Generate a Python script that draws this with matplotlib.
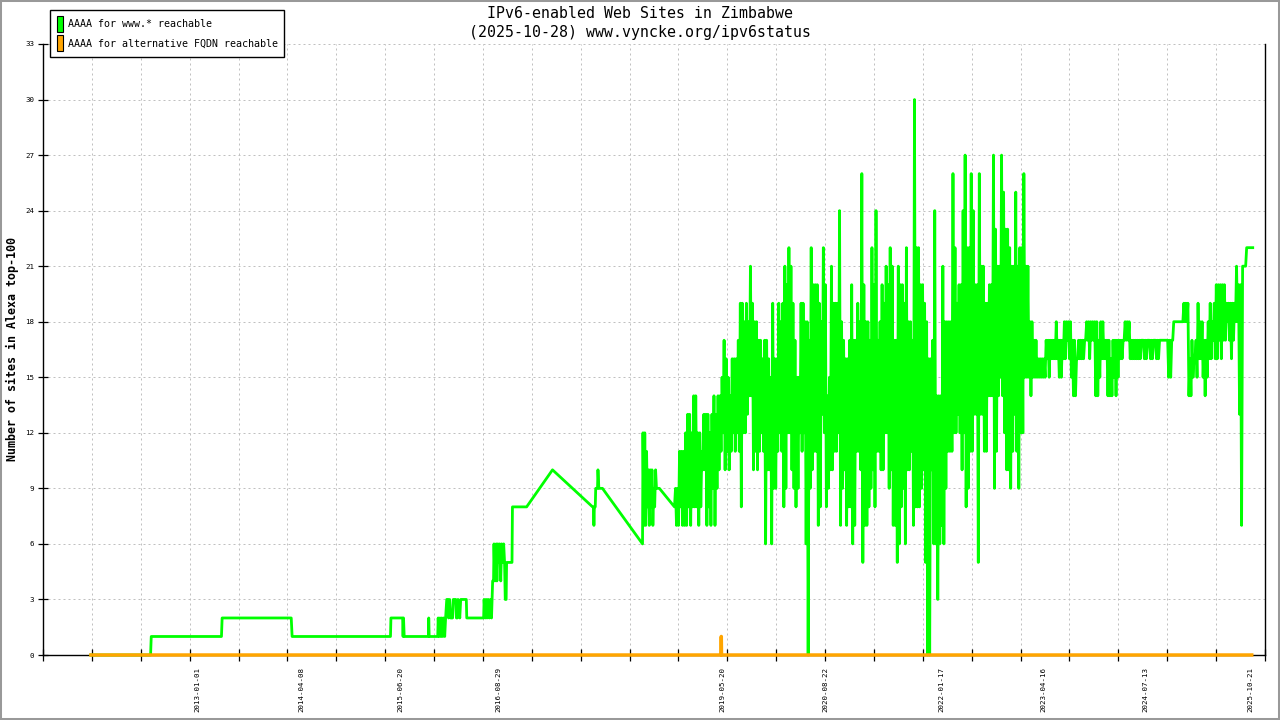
import numpy as np
import pandas as pd
import matplotlib
matplotlib.use("Agg")
import matplotlib.pyplot as plt
from matplotlib.patches import Patch, Rectangle

plt.rcParams["font.family"] = "DejaVu Sans Mono"

# axis labels
label_dates = ["2013-01-01", "2014-04-08", "2015-06-20", "2016-08-29", "2019-05-20",
               "2020-08-22", "2022-01-17", "2023-04-16", "2024-07-13", "2025-10-21"]
y_ticks = list(range(0, 34, 3))

# AAAA for www.* : early sparse measurements
early_dates = [
    "2011-09-14", "2012-06-05", "2012-06-08", "2013-04-16", "2013-04-19", "2014-02-20",
    "2014-02-24", "2015-05-07", "2015-05-09", "2015-06-30", "2015-07-02", "2015-07-04",
    "2015-07-07", "2015-10-23", "2015-10-24", "2015-10-26", "2015-12-03", "2015-12-05",
    "2015-12-09", "2015-12-13", "2015-12-17", "2015-12-21", "2015-12-25", "2015-12-29",
    "2016-01-03", "2016-01-07", "2016-01-12", "2016-01-17", "2016-01-20", "2016-01-25",
    "2016-01-29", "2016-02-07", "2016-02-10", "2016-02-21", "2016-02-24", "2016-02-28",
    "2016-03-02", "2016-03-10", "2016-03-14", "2016-04-08", "2016-04-10", "2016-06-24",
    "2016-06-26", "2016-07-01", "2016-07-05", "2016-07-09", "2016-07-14", "2016-07-19",
    "2016-07-24", "2016-07-29", "2016-08-03", "2016-08-07", "2016-08-09", "2016-08-13",
    "2016-08-16", "2016-08-19", "2016-08-22", "2016-08-26", "2016-08-30", "2016-09-03",
    "2016-09-08", "2016-09-12", "2016-09-17", "2016-09-21", "2016-09-25", "2016-09-28",
    "2016-10-02", "2016-10-04", "2016-10-28", "2016-10-30", "2017-01-01", "2017-04-26",
    "2017-10-21", "2017-10-25", "2017-10-27", "2017-10-29", "2017-11-02", "2017-11-04",
    "2017-11-12", "2017-11-14", "2017-11-18", "2017-12-04", "2018-05-31", "2018-06-02",
    "2018-06-06", "2018-06-10", "2018-06-14", "2018-06-18", "2018-06-22", "2018-06-26",
    "2018-06-30", "2018-07-04", "2018-07-08", "2018-07-12", "2018-07-16", "2018-07-20",
    "2018-07-24", "2018-07-28", "2018-08-01", "2018-08-14",
]
early_vals = [
    0, 0, 1, 1, 2, 2,
    1, 1, 2, 2, 1, 2,
    1, 1, 2, 1, 1, 2,
    1, 2, 1, 2, 1, 2,
    1, 2, 3, 3, 2, 3,
    2, 2, 3, 3, 2, 2,
    3, 2, 3, 3, 2, 2,
    3, 2, 3, 2, 3, 2,
    3, 2, 4, 4, 6, 4,
    5, 6, 4, 6, 5, 6,
    4, 6, 5, 6, 5, 3,
    3, 5, 5, 8, 8, 10,
    8, 8, 7, 8, 8, 9,
    9, 10, 9, 9, 6, 12,
    7, 12, 7, 11, 8, 10,
    7, 10, 8, 10, 7, 9,
    8, 10, 9, 9,
]

# AAAA for www.* : daily data from 2018-10-20, as lowest/highest value per 9-day slot
dense_start = "2018-10-20"
dense_low = [
    8, 7, 7, 8, 7, 7, 7, 8, 7, 8,
    8, 8, 7, 8, 10, 10, 7, 8, 7, 9,
    7, 9, 10, 11, 12, 10, 11, 10, 11, 12,
    11, 12, 11, 8, 12, 12, 13, 14, 14, 10,
    11, 10, 11, 12, 11, 6, 10, 10, 6, 9,
    9, 11, 12, 11, 8, 9, 12, 12, 10, 9,
    8, 9, 12, 11, 12, 6, 0, 9, 10, 11,
    11, 7, 8, 13, 12, 8, 9, 10, 10, 11,
    11, 12, 7, 9, 10, 7, 8, 8, 6, 7,
    11, 11, 10, 5, 7, 7, 8, 9, 10, 8,
    11, 11, 10, 10, 12, 12, 9, 10, 7, 7,
    5, 6, 8, 9, 6, 10, 10, 11, 7, 8,
    8, 8, 9, 10, 5, 0, 0, 10, 6, 6,
    3, 6, 7, 6, 9, 11, 11, 11, 12, 12,
    13, 12, 10, 12, 8, 9, 11, 11, 13, 13,
    5, 13, 13, 11, 11, 14, 14, 14, 9, 11,
    14, 15, 14, 12, 10, 10, 9, 11, 13, 11,
    9, 12, 12, 15, 15, 15, 14, 15, 15, 15,
    15, 15, 15, 15, 16, 15, 16, 16, 16, 16,
    15, 15, 16, 16, 17, 16, 15, 14, 14, 16,
    16, 16, 16, 17, 17, 16, 17, 17, 14, 14,
    15, 16, 16, 16, 14, 14, 14, 15, 14, 15,
    16, 16, 17, 17, 17, 16, 16, 16, 16, 16,
    16, 17, 16, 16, 17, 16, 16, 17, 16, 16,
    17, 17, 17, 17, 15, 15, 17, 18, 18, 18,
    18, 18, 18, 18, 14, 14, 15, 16, 15, 16,
    16, 15, 14, 15, 16, 16, 17, 16, 16, 17,
    16, 17, 17, 18, 17, 16, 17, 18, 18, 13,
    7, 21, 21, 22, 22, 22,
]
dense_high = [
    9, 9, 11, 11, 11, 12, 13, 13, 12, 14,
    14, 12, 12, 11, 13, 13, 13, 12, 13, 14,
    13, 14, 14, 15, 17, 16, 15, 14, 16, 16,
    16, 17, 19, 19, 18, 19, 18, 21, 19, 18,
    18, 17, 17, 16, 17, 17, 16, 15, 19, 16,
    16, 19, 18, 19, 21, 20, 22, 21, 19, 17,
    15, 15, 19, 19, 18, 18, 17, 22, 20, 20,
    20, 19, 18, 22, 20, 14, 15, 21, 19, 19,
    19, 24, 18, 17, 16, 16, 17, 20, 17, 17,
    19, 18, 26, 20, 18, 18, 17, 22, 20, 24,
    17, 18, 20, 19, 21, 20, 22, 21, 17, 17,
    21, 20, 20, 19, 22, 18, 18, 17, 30, 22,
    22, 20, 20, 19, 18, 16, 16, 17, 24, 14,
    14, 14, 21, 18, 18, 18, 18, 26, 22, 19,
    20, 20, 24, 27, 22, 22, 26, 24, 20, 20,
    26, 21, 21, 19, 19, 20, 20, 27, 23, 21,
    21, 27, 25, 23, 23, 22, 21, 21, 25, 21,
    22, 22, 26, 21, 21, 18, 18, 17, 17, 16,
    16, 16, 16, 17, 17, 17, 17, 17, 18, 17,
    17, 17, 18, 18, 18, 18, 17, 17, 16, 17,
    17, 17, 17, 18, 18, 18, 18, 18, 18, 17,
    18, 18, 17, 17, 17, 16, 17, 17, 17, 17,
    17, 17, 18, 18, 18, 17, 17, 17, 17, 17,
    17, 17, 17, 17, 17, 17, 17, 17, 17, 17,
    17, 17, 17, 17, 17, 17, 18, 18, 18, 18,
    18, 19, 19, 19, 16, 17, 16, 17, 19, 18,
    18, 17, 17, 18, 19, 18, 19, 20, 20, 20,
    20, 20, 19, 19, 19, 19, 19, 21, 20, 20,
    21, 21, 22, 22, 22, 22,
]
assert len(dense_low) == len(dense_high)

# AAAA for alternative FQDN
alt_dates = ["2011-09-14", "2019-05-15", "2019-05-16", "2019-05-17", "2025-10-28"]
alt_vals = [0, 0, 1, 0, 0]

W, H = 1280, 720
fig = plt.figure(figsize=(W / 100, H / 100), dpi=100)
ax = fig.add_axes([43 / W, 1 - 655 / H, (1265 - 43) / W, (655 - 44) / H])

www_dates = list(pd.to_datetime(early_dates))
www_vals = list(early_vals)
slots = pd.date_range(dense_start, periods=len(dense_low), freq="9D")
for d, lo, hi in zip(slots, dense_low, dense_high):
    www_dates += [d, d + pd.Timedelta(hours=108)]
    www_vals += [lo, hi]

ax.plot(www_dates, www_vals, color="#00ff00", lw=2.0, clip_on=False, zorder=3)
ax.plot(pd.to_datetime(alt_dates), alt_vals, color="#ffa500", lw=2.5,
        clip_on=False, zorder=4)

ax.set_xlim(pd.Timestamp("2011-02-13"), pd.Timestamp("2025-12-26"))
ax.set_ylim(0, 33)

x0, x1 = ax.get_xlim()
ax.set_xticks(np.linspace(x0, x1, 26), minor=True)
ax.set_xticks(pd.to_datetime(label_dates))
ax.set_xticklabels(label_dates, rotation=90)
ax.set_yticks(y_ticks)
ax.set_yticklabels([str(v) for v in y_ticks])

ax.tick_params(axis="x", which="major", length=0, pad=8.5, labelsize=5.4)
ax.tick_params(axis="x", which="minor", direction="inout", length=8, width=0.9)
ax.tick_params(axis="y", direction="inout", length=6.5, width=0.9, labelsize=5.4, pad=3)

grid_kw = dict(color="#c0c0c0", lw=0.72, linestyle=(0, (2, 3)))
ax.xaxis.grid(True, which="minor", **grid_kw)
ax.xaxis.grid(False, which="major")
ax.yaxis.grid(True, which="major", **grid_kw)
ax.set_axisbelow(True)

ax.spines["top"].set_visible(False)
for s in ("left", "right", "bottom"):
    ax.spines[s].set_linewidth(1.0)
    ax.spines[s].set_color("black")

fig.text(0.5, 1 - 13 / H, "IPv6-enabled Web Sites in Zimbabwe",
         ha="center", va="center", fontsize=10.7)
fig.text(0.5, 1 - 32 / H, "(2025-10-28) www.vyncke.org/ipv6status",
         ha="center", va="center", fontsize=10.7)
fig.text(12.5 / W, 1 - 349.5 / H, "Number of sites in Alexa top-100", rotation=90,
         ha="center", va="center", fontsize=8.4, fontweight="bold")

handles = [Patch(facecolor="#00ff00", edgecolor="black", lw=0.8,
                 label="AAAA for www.* reachable"),
           Patch(facecolor="#ffa500", edgecolor="black", lw=0.8,
                 label="AAAA for alternative FQDN reachable")]
leg = fig.legend(handles=handles, loc="upper left", bbox_to_anchor=(50 / W, 1 - 10 / H),
                 fontsize=7.2, handlelength=0.6, handleheight=2.0, handletextpad=0.5,
                 labelspacing=0.35, borderpad=0.65, borderaxespad=0, fancybox=False,
                 edgecolor="black", framealpha=1)
leg.get_frame().set_linewidth(1.0)

fig.patches.append(Rectangle((0, 0), 1, 1, transform=fig.transFigure, fill=False,
                             edgecolor="#999999", lw=2.9))

fig.savefig("out.png", dpi=100)
